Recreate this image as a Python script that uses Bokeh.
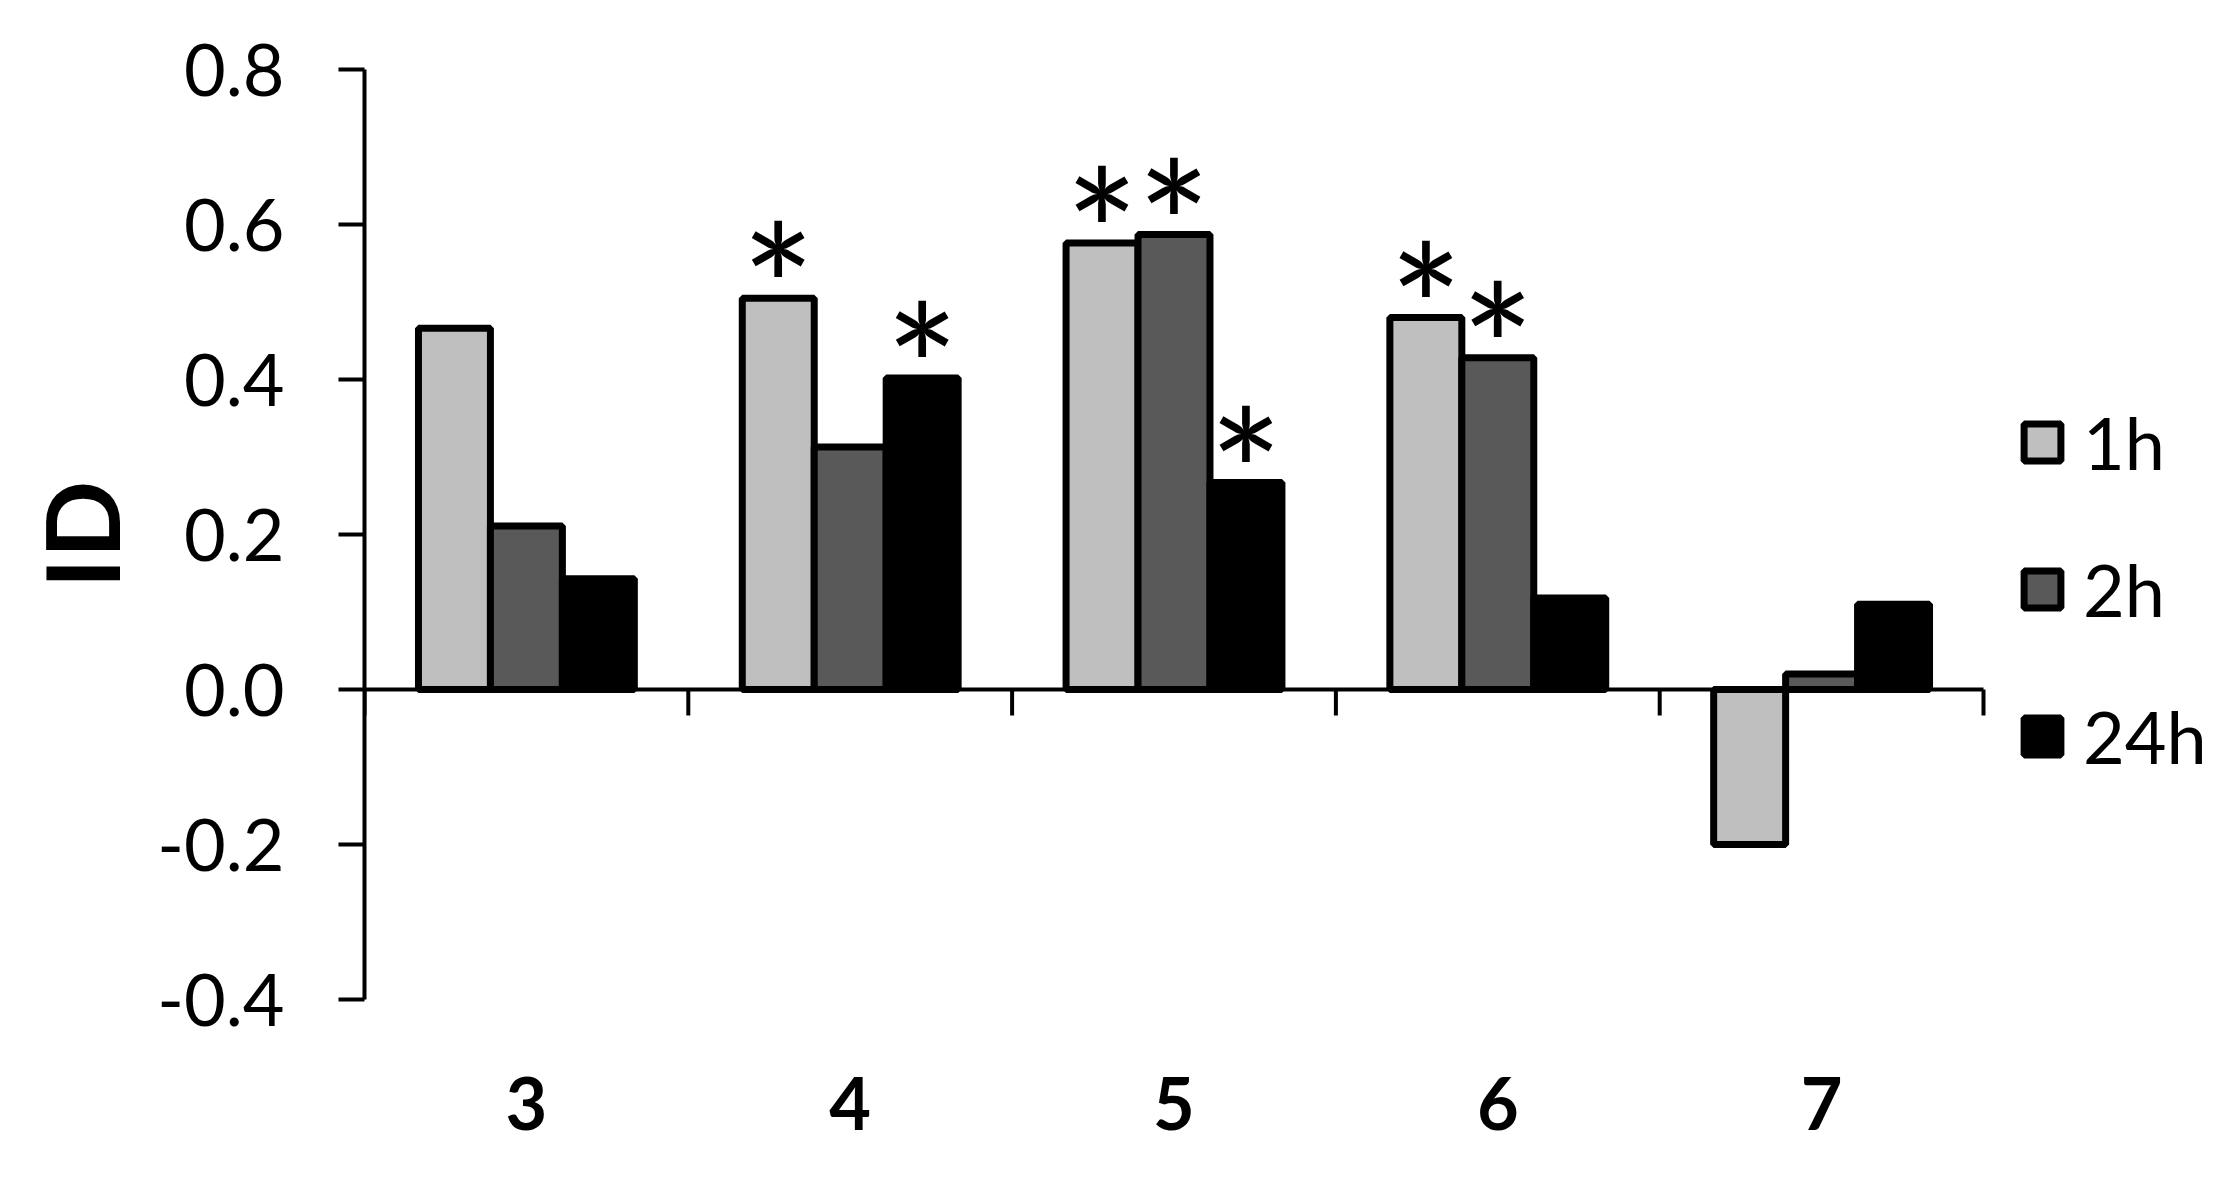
from bokeh.plotting import figure
from bokeh.models import (Range1d, LinearAxis, FixedTicker, ColumnDataSource,
                          NumeralTickFormatter, Legend, LegendItem)
from bokeh.core.properties import value
from bokeh.embed import file_html
from bokeh.resources import INLINE

# ---- data ----
categories = ["3", "4", "5", "6", "7"]
series_names = ["1h", "2h", "24h"]
vals_1h = [0.466, 0.505, 0.576, 0.480, -0.200]
vals_2h = [0.211, 0.313, 0.587, 0.428, 0.020]
vals_24h = [0.143, 0.402, 0.267, 0.118, 0.110]
sig_1h = [False, True, True, True, False]
sig_2h = [False, False, True, True, False]
sig_24h = [False, True, True, False, False]
y_ticks = [-0.4, -0.2, 0.0, 0.2, 0.4, 0.6, 0.8]
colors = ["#BFBFBF", "#595959", "#000000"]

FONT = "Lato"
n = len(categories)
bar_w = 1.0 / 4.5
offsets = [-bar_w, 0.0, bar_w]

W, H = 2222, 1165
LEFT, TOP, BOTTOM = 364, 69, 166
AXIS_PX = 1619                      # pixel length of the category axis
x_end = n * (W - LEFT) / AXIS_PX    # frame reaches the right edge so the legend is not clipped
frame_h = H - TOP - BOTTOM
tick_len = 26 * (y_ticks[-1] - y_ticks[0]) / frame_h   # 26 px in data units

p = figure(width=W, height=H, output_backend="svg", toolbar_location=None,
           x_range=Range1d(0, x_end), y_range=Range1d(y_ticks[0], y_ticks[-1]),
           x_axis_type=None, y_axis_type=None,
           min_border_left=LEFT, min_border_right=0, min_border_top=TOP,
           min_border_bottom=BOTTOM)
p.outline_line_color = None
p.xgrid.visible = False
p.ygrid.visible = False
p.background_fill_color = "white"
p.border_fill_color = "white"

# y axis
yax = LinearAxis(ticker=FixedTicker(ticks=y_ticks),
                 formatter=NumeralTickFormatter(format="0.0"))
yax.axis_line_width = 4
yax.major_tick_line_width = 4
yax.major_tick_in = 0
yax.major_tick_out = 26
yax.minor_tick_out = 0
yax.minor_tick_in = 0
yax.major_label_standoff = 54
yax.major_label_text_font = FONT
yax.major_label_text_font_size = "72px"
yax.major_label_text_color = "black"
yax.axis_label = "ID"
yax.axis_label_text_font = FONT
yax.axis_label_text_font_style = "bold"
yax.axis_label_text_font_size = "102px"
yax.axis_label_text_color = "black"
yax.axis_label_standoff = 12
p.add_layout(yax, "left")

# category labels at the bottom
cat_ticks = [i + 0.5 for i in range(n)]
cax = LinearAxis(ticker=FixedTicker(ticks=cat_ticks),
                 major_label_overrides={t: c for t, c in zip(cat_ticks, categories)})
cax.axis_line_color = None
cax.major_tick_line_color = None
cax.minor_tick_line_color = None
cax.major_tick_out = 0
cax.major_tick_in = 0
cax.major_label_standoff = 77
cax.major_label_text_font = FONT
cax.major_label_text_font_style = "bold"
cax.major_label_text_font_size = "72px"
cax.major_label_text_color = "black"
p.add_layout(cax, "below")

# bars
all_vals = [vals_1h, vals_2h, vals_24h]
all_sig = [sig_1h, sig_2h, sig_24h]
renderers = []
for k, (name, vals) in enumerate(zip(series_names, all_vals)):
    xs = [i + 0.5 + offsets[k] for i in range(n)]
    src = ColumnDataSource(dict(x=xs, top=vals))
    r = p.vbar(x="x", top="top", bottom=0, width=bar_w, source=src,
               fill_color=colors[k], line_color="black", line_width=7)
    renderers.append(r)

# zero axis line and category-boundary ticks (drawn over the bars)
bnd = list(range(n + 1))
p.segment(x0=[0], y0=[0], x1=[n], y1=[0], line_color="black", line_width=4)
p.segment(x0=bnd, y0=[0] * len(bnd), x1=bnd, y1=[-tick_len] * len(bnd),
          line_color="black", line_width=4)

# significance asterisks
sx, sy = [], []
for k in range(3):
    for i in range(n):
        if all_sig[k][i]:
            sx.append(i + 0.5 + offsets[k])
            sy.append(all_vals[k][i])
p.text(x=sx, y=sy, text=["*"] * len(sx), text_font=value(FONT),
       text_font_size="175px", text_align="center", text_baseline="alphabetic",
       y_offset=-14, text_color="black")

legend = Legend(items=[LegendItem(label=nm, renderers=[r])
                       for nm, r in zip(series_names, renderers)],
                location=(1655, 220))
legend.glyph_width = 46
legend.glyph_height = 46
legend.label_height = 46
legend.label_standoff = 18
legend.spacing = 61
legend.padding = 0
legend.margin = 0
legend.border_line_color = None
legend.background_fill_alpha = 0
legend.label_text_font = FONT
legend.label_text_font_size = "72px"
legend.label_text_color = "black"
p.add_layout(legend, "center")

open("out.html", "w").write(file_html(p, INLINE))
